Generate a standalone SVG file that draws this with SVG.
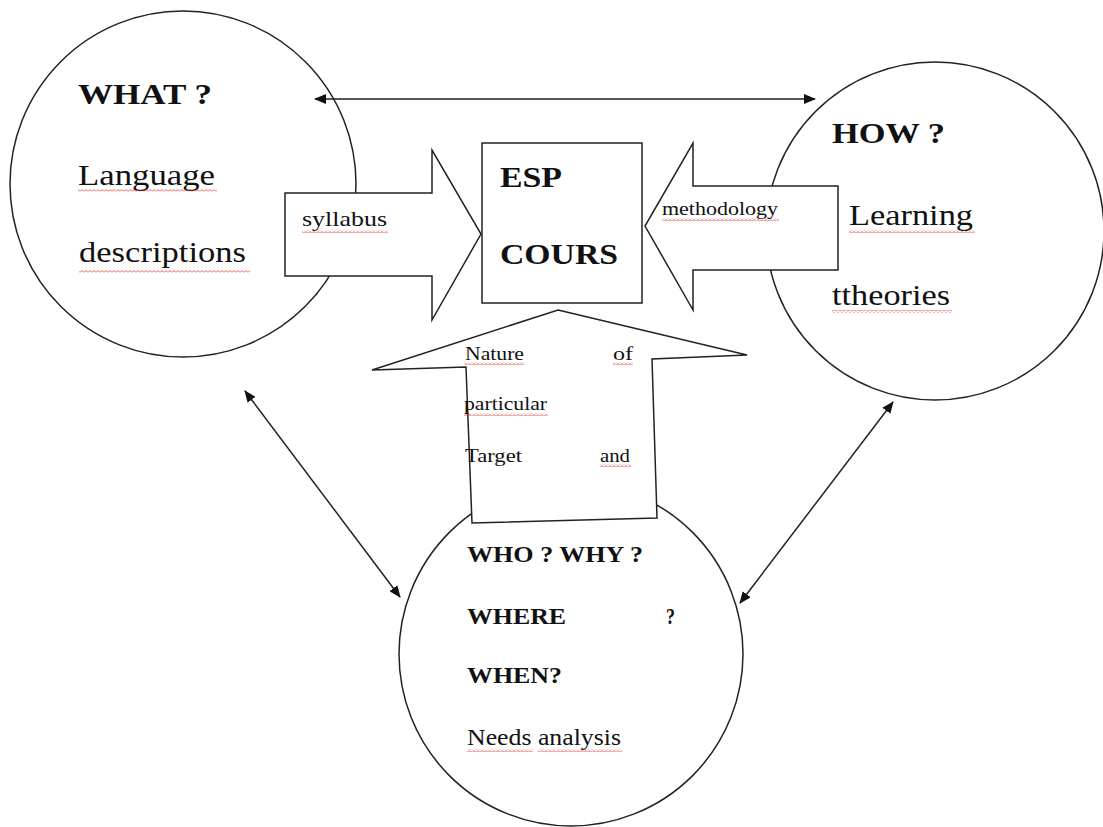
<svg xmlns="http://www.w3.org/2000/svg" width="1103" height="827" viewBox="0 0 1103 827">
<style>
.shape{fill:#fff;stroke:#222;stroke-width:1.5;}
.line{fill:none;stroke:#222;stroke-width:1.5;}
.big{font-size:30px;}
.b{font-weight:bold;}
.mid{font-size:22.5px;}
.sm{font-size:19px;}
.sq{fill:url(#squig);}
</style>
<defs>
<marker id="ah" viewBox="0 0 12 10" refX="11" refY="5" markerWidth="12" markerHeight="10" markerUnits="userSpaceOnUse" orient="auto-start-reverse">
<path d="M0,0 L12,5 L0,10 Z" fill="#111"/>
</marker>
<pattern id="squig" width="4" height="3" patternUnits="userSpaceOnUse">
<path d="M0,2.5 L2,0.5 L4,2.5" fill="none" stroke="#e03030" stroke-width="0.8"/>
</pattern>
</defs>
<rect width="1103" height="827" fill="#fff"/>
<g font-family="Liberation Serif, Times New Roman, serif" fill="#111">

<g id="node-what">
<circle class="shape" cx="183" cy="184" r="173"/>
<text class="big b" x="78" y="104" textLength="134" lengthAdjust="spacingAndGlyphs">WHAT ?</text>
<text class="big" x="78" y="185" textLength="137" lengthAdjust="spacingAndGlyphs">Language</text>
<rect class="sq" x="78" y="189" width="139" height="3"/>
<text class="big" x="79" y="262" textLength="167" lengthAdjust="spacingAndGlyphs">descriptions</text>
<rect class="sq" x="79" y="270" width="171" height="3"/>
</g>

<g id="node-how">
<circle class="shape" cx="935" cy="231" r="169"/>
<text class="big b" x="832" y="143" textLength="113" lengthAdjust="spacingAndGlyphs">HOW ?</text>
<text class="big" x="849" y="225" textLength="124" lengthAdjust="spacingAndGlyphs">Learning</text>
<rect class="sq" x="849" y="230" width="126" height="3"/>
<text class="big" x="832" y="305" textLength="118" lengthAdjust="spacingAndGlyphs">ttheories</text>
<rect class="sq" x="832" y="310" width="120" height="3"/>
</g>

<g id="node-who">
<circle class="shape" cx="571" cy="654" r="172"/>
</g>

<g id="connectors">
<line class="line" x1="315" y1="99" x2="815" y2="99" marker-start="url(#ah)" marker-end="url(#ah)"/>
<line class="line" x1="245" y1="391" x2="400" y2="597" marker-start="url(#ah)" marker-end="url(#ah)"/>
<line class="line" x1="893" y1="402" x2="740" y2="603" marker-start="url(#ah)" marker-end="url(#ah)"/>
</g>

<g id="arrow-syllabus">
<polygon class="shape" points="285,193 432,193 432,150 481,234 432,320 432,276 285,276"/>
<text style="font-size:22px" x="302" y="226" textLength="85" lengthAdjust="spacingAndGlyphs">syllabus</text>
<rect class="sq" x="302" y="230" width="86" height="3"/>
</g>

<g id="arrow-methodology">
<polygon class="shape" points="838,186 693,186 693,143 645,226 693,310 693,270 838,270"/>
<text class="sm" x="662" y="215" textLength="116" lengthAdjust="spacingAndGlyphs">methodology</text>
<rect class="sq" x="662" y="218" width="117" height="3"/>
</g>

<g id="node-esp">
<rect class="shape" x="482" y="143" width="160" height="160"/>
<text class="big b" x="500" y="187" textLength="62" lengthAdjust="spacingAndGlyphs">ESP</text>
<text class="big b" x="500" y="264" textLength="118" lengthAdjust="spacingAndGlyphs">COURS</text>
</g>

<g id="arrow-nature">
<polygon class="shape" points="558,310 747,355 652,359 657,518 472,523 466,367 372,370"/>
<text class="sm" x="465" y="360" textLength="59" lengthAdjust="spacingAndGlyphs">Nature</text>
<rect class="sq" x="464" y="362" width="60" height="3"/>
<text class="sm" x="613" y="360" textLength="20" lengthAdjust="spacingAndGlyphs">of</text>
<rect class="sq" x="613" y="362" width="20" height="3"/>
<text class="sm" x="464" y="410" textLength="83" lengthAdjust="spacingAndGlyphs">particular</text>
<rect class="sq" x="464" y="413" width="84" height="3"/>
<text class="sm" x="465" y="462" textLength="57" lengthAdjust="spacingAndGlyphs">Target</text>
<text class="sm" x="600" y="462" textLength="30" lengthAdjust="spacingAndGlyphs">and</text>
<rect class="sq" x="600" y="464" width="31" height="3"/>
</g>

<g id="node-who-text">
<text class="mid b" x="467" y="562" textLength="176" lengthAdjust="spacingAndGlyphs">WHO ? WHY ?</text>
<text class="mid b" x="467" y="624" textLength="99" lengthAdjust="spacingAndGlyphs">WHERE</text>
<text class="mid b" x="666" y="624" textLength="9" lengthAdjust="spacingAndGlyphs">?</text>
<text class="mid b" x="467" y="683" textLength="95" lengthAdjust="spacingAndGlyphs">WHEN?</text>
<text class="mid" x="467" y="745" textLength="154" lengthAdjust="spacingAndGlyphs">Needs analysis</text>
<rect class="sq" x="467" y="749" width="66" height="3"/>
<rect class="sq" x="538" y="749" width="84" height="3"/>
</g>
</g>
</svg>
